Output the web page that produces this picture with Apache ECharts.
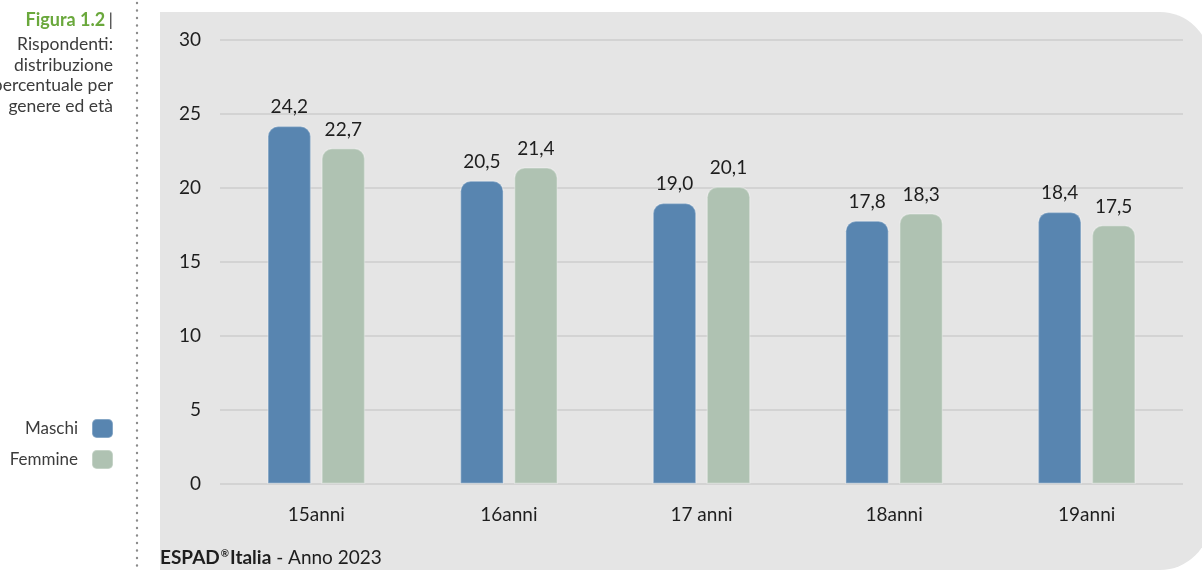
<!DOCTYPE html>
<html>
<head>
<meta charset="utf-8">
<script src="https://cdn.jsdelivr.net/npm/echarts@6/dist/echarts.min.js"></script>
<style>
  html, body { margin: 0; padding: 0; background: #ffffff; }
  #chart { width: 1202px; height: 570px; }
</style>
</head>
<body>
<div id="chart"></div>
<script>
// Age groups on the x axis
const categories = ['15anni', '16anni', '17 anni', '18anni', '19anni'];
// Percentage of respondents by gender
const maschi = [24.2, 20.5, 19.0, 17.8, 18.4];
const femmine = [22.7, 21.4, 20.1, 18.3, 17.5];
// Value axis ticks
const yTicks = [0, 5, 10, 15, 20, 25, 30];

const FONT = 'Lato, "Noto Sans", sans-serif';
const BLUE = '#5885b0';
const GREEN = '#afc2b2';

const fmt = v => v.toFixed(1).replace('.', ',');

const chart = echarts.init(document.getElementById('chart'), null, { renderer: 'canvas' });

const barLabel = {
  show: true,
  position: 'top',
  distance: 9,
  fontFamily: FONT,
  fontSize: 19,
  color: '#1e1e1e',
  formatter: p => fmt(p.value)
};

const option = {
  animation: false,
  textStyle: { fontFamily: FONT },
  graphic: [
    // grey panel behind the plot
    {
      type: 'rect', z: -10, silent: true,
      shape: { x: 160, y: 12, width: 1050, height: 558, r: [0, 50, 50, 0] },
      style: { fill: '#e5e5e5' }
    },
    // dotted separator
    {
      type: 'line', z: -10, silent: true,
      shape: { x1: 137, y1: 3, x2: 137, y2: 570 },
      style: { stroke: '#8c8c8c', lineWidth: 2.4, lineDash: [0.1, 7.4], lineCap: 'round' }
    },
    // caption on the left
    {
      type: 'text', silent: true,
      x: 113, y: 20,
      style: {
        text: '{g|Figura 1.2} {s||}',
        textAlign: 'right', textVerticalAlign: 'middle',
        rich: {
          g: { fontFamily: FONT, fontSize: 18, fontWeight: 'bold', fill: '#6aa83c' },
          s: { fontFamily: FONT, fontSize: 18, fill: '#444' }
        }
      }
    },
    {
      type: 'text', silent: true,
      x: 113, y: 34,
      style: {
        text: 'Rispondenti:\ndistribuzione\npercentuale per\ngenere ed età',
        textAlign: 'right', textVerticalAlign: 'top',
        fontFamily: FONT, fontSize: 17.5, lineHeight: 20.7, fill: '#3c3c3c'
      }
    },
    // source line
    {
      type: 'text', silent: true,
      x: 160, y: 558,
      style: {
        text: '{b|ESPAD}{r|®}{b|Italia}{n| - Anno 2023}',
        textVerticalAlign: 'middle',
        rich: {
          b: { fontFamily: FONT, fontSize: 19, fontWeight: 'bold', fill: '#1e1e1e' },
          r: { fontFamily: FONT, fontSize: 10, fontWeight: 'bold', fill: '#1e1e1e', verticalAlign: 'top', padding: [0, 1, 6, 1] },
          n: { fontFamily: FONT, fontSize: 19, fill: '#1e1e1e' }
        }
      }
    }
  ],
  legend: [
    {
      data: ['Maschi'], top: 413, right: 1083, align: 'right', orient: 'vertical',
      selectedMode: false, icon: 'roundRect', itemWidth: 21, itemHeight: 19,
      textStyle: { fontFamily: FONT, fontSize: 17, color: '#3c3c3c', padding: [0, 9, 0, 0] }
    },
    {
      data: ['Femmine'], top: 444, right: 1083, align: 'right', orient: 'vertical',
      selectedMode: false, icon: 'roundRect', itemWidth: 21, itemHeight: 19,
      textStyle: { fontFamily: FONT, fontSize: 17, color: '#3c3c3c', padding: [0, 9, 0, 0] }
    }
  ],
  grid: { left: 220, right: 19, top: 40, bottom: 86, containLabel: false },
  xAxis: {
    type: 'category',
    data: categories,
    axisLine: { show: false },
    axisTick: { show: false },
    axisLabel: { fontFamily: FONT, fontSize: 19, color: '#1e1e1e', margin: 21 }
  },
  yAxis: {
    type: 'value',
    min: yTicks[0], max: yTicks[yTicks.length - 1], interval: 5,
    axisLine: { show: false },
    axisTick: { show: false },
    axisLabel: { fontFamily: FONT, fontSize: 19, color: '#1e1e1e', margin: 19 },
    splitLine: { lineStyle: { color: '#d3d3d3', width: 2 } }
  },
  series: [
    {
      name: 'Maschi', type: 'bar', data: maschi,
      barWidth: '22.8%', barGap: '23%',
      itemStyle: { color: BLUE, borderColor: 'rgba(255,255,255,0.28)', borderWidth: 1.5, borderRadius: [10, 10, 0, 0] },
      label: barLabel
    },
    {
      name: 'Femmine', type: 'bar', data: femmine,
      barWidth: '22.8%', barGap: '23%',
      itemStyle: { color: GREEN, borderColor: 'rgba(255,255,255,0.28)', borderWidth: 1.5, borderRadius: [10, 10, 0, 0] },
      label: barLabel
    }
  ]
};

chart.setOption(option);
</script>
</body>
</html>
